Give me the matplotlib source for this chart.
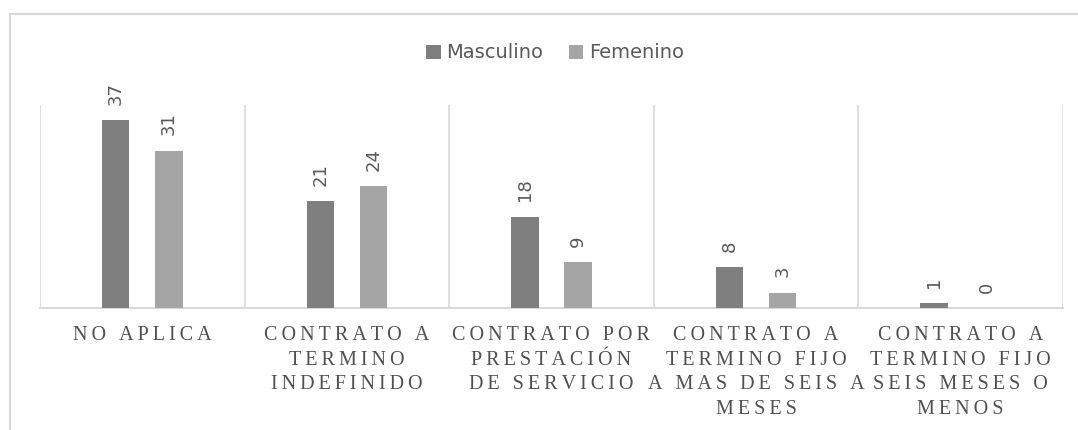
import numpy as np
import matplotlib.pyplot as plt
import matplotlib
from matplotlib.patches import Rectangle

matplotlib.rcParams.update({'font.family': ['DejaVu Sans']})

# tipos de contrato por sexo
categorias = ["NO APLICA",
              "CONTRATO A\nTERMINO\nINDEFINIDO",
              "CONTRATO POR\nPRESTACIÓN\nDE SERVICIO",
              "CONTRATO A\nTERMINO FIJO\nA MAS DE SEIS A\nMESES",
              "CONTRATO A\nTERMINO FIJO\nSEIS MESES O\nMENOS"]
masculino = [37, 21, 18, 8, 1]
femenino  = [31, 24, 9, 3, 0]

c_masc, c_fem = '#7f7f7f', '#a5a5a5'
c_txt, c_grid = '#595959', '#d9d9d9'


def espaciado(s):
    # letras separadas con espacio fino
    return "\n".join("\u2009".join(linea) for linea in s.split("\n"))


fig = plt.figure(figsize=(10.78, 4.30), dpi=100)
ax  = fig.add_axes([40/1078, 1-308/430, (1063-40)/1078, (308-105)/430])

# marco del grafico
fig.patches.append(Rectangle((10/1078, -0.2), 1.2, 1.2 - 14/430, transform=fig.transFigure,
                             fill=False, edgecolor=c_grid, lw=1.5, zorder=0))

x  = np.arange(len(categorias))
bw, off = 0.134, 0.13
b1 = ax.bar(x-off, masculino, bw, color=c_masc, label='Masculino', zorder=3)
b2 = ax.bar(x+off, femenino , bw, color=c_fem , label='Femenino' , zorder=3)

for barras in (b1, b2):
    for b in barras:
        h = b.get_height()
        ax.annotate(f"{h:g}", (b.get_x()+b.get_width()/2, h), xytext=(0, 11),
                    textcoords='offset points', rotation=90, ha='center', va='bottom',
                    fontsize=13, color=c_txt)

ax.set_xlim(-0.5, len(categorias)-0.5)
ax.set_ylim(0, 40)
for xv in np.arange(-0.5, len(categorias), 1.0):
    ax.axvline(xv, color=c_grid, lw=1.2, zorder=1)

for s in ['top', 'right', 'left']:
    ax.spines[s].set_visible(False)
ax.spines['bottom'].set_color(c_grid)
ax.spines['bottom'].set_linewidth(1.5)
ax.set_yticks([])
ax.set_xticks(x)
ax.set_xticklabels([espaciado(c) for c in categorias], fontsize=14.5, color='#505050',
                   family=['Liberation Serif', 'DejaVu Serif'], linespacing=1.4)
ax.tick_params(axis='x', length=0, pad=13)

fig.legend(handles=[b1, b2], loc='center', bbox_to_anchor=(555/1078, 1-53/430), ncol=2,
           frameon=False, fontsize=14, handlelength=0.75, handleheight=0.75,
           handletextpad=0.3, columnspacing=1.3, labelcolor=c_txt)

fig.savefig("out.png", dpi=100)
